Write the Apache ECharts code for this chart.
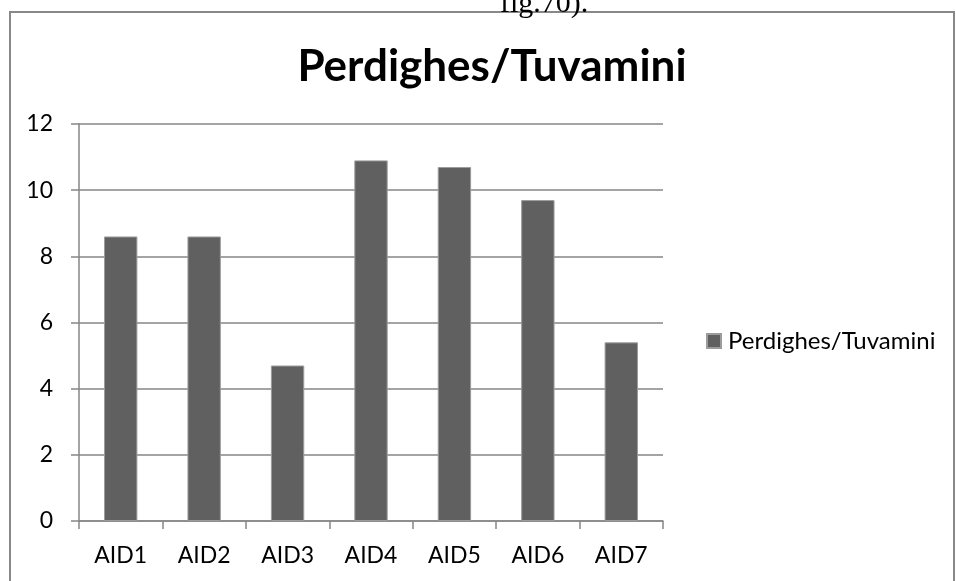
<!DOCTYPE html>
<html>
<head>
<meta charset="utf-8">
<script src="https://cdn.jsdelivr.net/npm/echarts@6/dist/echarts.min.js"></script>
<style>
  html, body { margin: 0; padding: 0; background: #ffffff; }
  #chart { width: 956px; height: 581px; }
</style>
</head>
<body>
<div id="chart"></div>
<script>
// Categories and values of the bar series
const categories = ['AID1', 'AID2', 'AID3', 'AID4', 'AID5', 'AID6', 'AID7'];
const values = [8.6, 8.6, 4.7, 10.9, 10.7, 9.7, 5.4];
const seriesName = 'Perdighes/Tuvamini';
const chartTitle = 'Perdighes/Tuvamini';
const yTicks = { min: 0, max: 12, interval: 2 };

const axisGray = '#868686';
const fontFamily = 'Lato, "Open Sans", sans-serif';

const chart = echarts.init(document.getElementById('chart'), null, { renderer: 'canvas' });

chart.setOption({
  backgroundColor: '#ffffff',
  animation: false,
  title: {
    text: chartTitle,
    left: 487,
    top: 40,
    textAlign: 'center',
    textStyle: { fontFamily, fontSize: 44, fontWeight: 'bold', color: '#000000' }
  },
  legend: {
    data: [seriesName],
    left: 706,
    top: 329,
    padding: 0,
    icon: 'rect',
    itemWidth: 14,
    itemHeight: 14,
    itemGap: 6,
    textStyle: { fontFamily, fontSize: 24, color: '#000000', padding: [0, 0, 0, 2] }
  },
  grid: { left: 79, right: 293, top: 124, bottom: 60, containLabel: false },
  xAxis: {
    type: 'category',
    data: categories,
    boundaryGap: true,
    axisLine: { show: true, lineStyle: { color: axisGray, width: 1.5 } },
    axisTick: { show: true, alignWithLabel: false, length: 8, lineStyle: { color: axisGray, width: 1.5 } },
    axisLabel: { margin: 23, fontFamily, fontSize: 23, color: '#000000' },
    splitLine: { show: false }
  },
  yAxis: {
    type: 'value',
    min: yTicks.min,
    max: yTicks.max,
    interval: yTicks.interval,
    axisLine: { show: true, lineStyle: { color: axisGray, width: 1.5 } },
    axisTick: { show: true, length: 8, lineStyle: { color: axisGray, width: 1.5 } },
    axisLabel: { margin: 26, fontFamily, fontSize: 23, color: '#000000' },
    splitLine: { show: true, lineStyle: { color: axisGray, width: 1.5 } }
  },
  series: [{
    name: seriesName,
    type: 'bar',
    data: values,
    barWidth: '40%',
    itemStyle: { color: '#606060', borderColor: '#9c9c9c', borderWidth: 1 }
  }],
  graphic: [
    {
      // chart frame
      type: 'rect',
      shape: { x: 10, y: 12, width: 944, height: 600 },
      style: { fill: 'none', stroke: '#888888', lineWidth: 2 },
      silent: true
    },
    {
      // caption line above the frame
      type: 'text',
      left: 500,
      top: -11,
      style: { text: 'fig.70).', font: '30px "Liberation Serif", serif', fill: '#000000' },
      silent: true
    }
  ]
});
</script>
</body>
</html>
